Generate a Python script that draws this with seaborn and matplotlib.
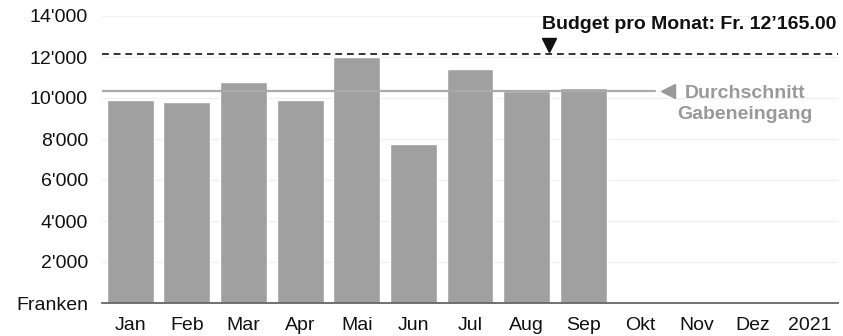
import matplotlib
matplotlib.use("Agg")
import matplotlib.pyplot as plt
import seaborn as sns
import pandas as pd
import numpy as np

# Data
categories = ["Jan", "Feb", "Mar", "Apr", "Mai", "Jun", "Jul", "Aug", "Sep", "Okt", "Nov", "Dez", "2021"]
months_with_data = ["Jan", "Feb", "Mar", "Apr", "Mai", "Jun", "Jul", "Aug", "Sep"]
gaben = [9900, 9820, 10800, 9900, 11985, 7760, 11400, 10360, 10470]
budget = 12165.0
average = 10330
y_ticks = [0, 2000, 4000, 6000, 8000, 10000, 12000, 14000]
y_tick_labels = ["Franken", "2'000", "4'000", "6'000", "8'000", "10'000", "12'000", "14'000"]
budget_label = "Budget pro Monat: Fr. 12\u2019165.00"
average_label = "Durchschnitt\nGabeneingang"

sns.set_theme(style="white")
plt.rcParams["font.family"] = ["Liberation Sans", "DejaVu Sans"]

fig = plt.figure(figsize=(8.43, 3.36), dpi=100)
ax = fig.add_axes([102 / 843, 1 - 303 / 336, 736 / 843, 297.25 / 336])

df = pd.DataFrame({"Monat": months_with_data, "Franken": gaben})
sns.barplot(data=df, x="Monat", y="Franken", order=categories, color="#a0a0a0",
            saturation=1, width=0.83, ax=ax, zorder=2)

ax.set_xlim(-0.5, len(categories) - 0.5)
ax.set_ylim(0, 14500)
ax.set_yticks(y_ticks)
ax.set_yticklabels(y_tick_labels)
ax.set_xlabel("")
ax.set_ylabel("")

for t in y_ticks[1:]:
    ax.axhline(t, color="#f0f0f0", lw=0.9, zorder=0)

for s in ["top", "right", "left"]:
    ax.spines[s].set_visible(False)
ax.spines["bottom"].set_color("#666666")
ax.spines["bottom"].set_linewidth(1.3)
ax.spines["bottom"].set_zorder(3)

ax.tick_params(axis="both", length=0, labelsize=14, colors="#111111")
ax.tick_params(axis="y", pad=10)
ax.tick_params(axis="x", pad=10)

# Budget line
ax.axhline(budget, color="#333333", lw=1.4, ls=(0, (3.5, 2.5)), zorder=3)
ax.plot([7.4], [12600], marker="v", color="#111111", markersize=10, zorder=4)
ax.text(12.47, 13580, budget_label, ha="right", va="center", fontsize=14,
        fontweight="bold", color="#111111")

# Average line
ax.plot([-0.5, 9.27], [average, average], color="#aaaaaa", lw=1.6, zorder=3)
ax.plot([9.5], [average], marker="<", color="#999999", markersize=10, zorder=4)
ax.text(10.86, 9700, average_label, ha="center", va="center", fontsize=14,
        fontweight="bold", color="#999999", linespacing=1.3)

fig.savefig("out.png", dpi=100)
